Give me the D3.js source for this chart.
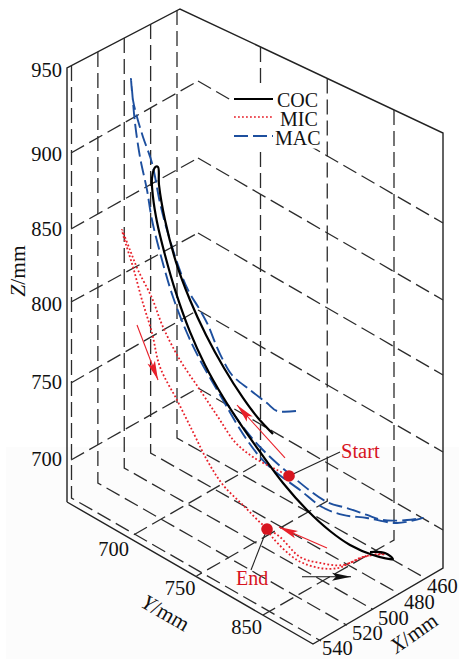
<!DOCTYPE html>
<html><head><meta charset="utf-8">
<style>html,body{margin:0;padding:0;background:#fff}svg{display:block}text{font-family:"Liberation Serif",serif;fill:#111}</style>
<script src="https://cdn.jsdelivr.net/npm/d3@7/dist/d3.min.js"></script>
</head><body><svg id="c" width="459" height="659"></svg>
<script>
// ---- axis ticks
const zTicks=[700,750,800,850,900,950];
const zGrid=[700,750,800,850,900];
const yLabels=["700","750","850"];
const xTicks=[460,480,500,520,540];
// ---- trajectories (Y mm, Z mm), seen in the view plane
const cocY=[807.25,796,784.75,770.5,757,745,734.5,726.25,721.75,721,719.1,716.5,717.25,720.25,726.25,734.5,745,756.25,769.75,783.25,797.5,814.75,832.75,850,865,882.25,897.25,891.25,880];
const cocZ=[801.1,805.7,813.1,825.5,840.3,857.2,876.9,900.5,921.5,933.1,932.1,923.3,911.1,896,877.2,856.3,835.9,819.9,805.7,794.3,783.9,772.4,764,759.2,757.9,760.4,765.7,766.5,761.2];
const macY=[824.5,810.25,802.75,790,776.5,769.75,764.5,758.5,752.5,743.5,736,727.75,722.5,716.5,709.75,705.25,702.25,700.75,701.5,703.75,707.5,712.75,716.5,724,732.25,742.75,752.5,769.75,778.75,787.75,797.5,807.25,827.5,844,859.75,877.75,900.25,919.75,907.75,889.75,877.75,862.75,847.75,822.25,797.5,782.5,773.5];
const macZ=[825.6,818,819.3,821.2,824,830.4,837.6,847.7,854.5,863.1,875.7,894.7,909.9,933.3,947.1,958,967.7,980.9,974,953.2,932.5,913.3,895.3,872.7,852.4,834,821.2,803.7,794.5,786.7,780.5,777.1,774.5,772,775.1,782.7,791.3,805.1,797.3,787.7,784.7,781.3,777.3,780.4,787.2,795.2,802.4];
const micY=[819.25,810.25,792.25,778.75,766,752.5,737.5,724.75,716.5,706,700,694,695.5,702.25,709,716.5,722.5,735.25,747.25,757.75,769.75,784.75,799.75,812.5,827.5,842.5,859.75,874.75,891.25,880,865,856,842.5,825.25,807.25,802.75];
const micZ=[779.5,778.7,777.7,780.5,790.4,801.2,813.2,828.4,843.3,856.4,866.5,876.7,872.1,856.4,838,820,800.5,785.3,770.4,757.3,747.1,741.7,736.4,735.2,729.9,733.9,741.7,755.1,765.9,759.2,745.9,737.7,730.5,726.7,731.7,735.3];
// ---- start / end markers and direction arrows: [Y, Z]
const startPoint=[819.25,779.5], endPoint=[802.75,735.3];
const startLabelAnchor=[857.5,815.9], endLabelAnchor=[790.75,701.6];
const redArrows=[[[705.25,819.3],[721,791.1]],[[816.25,789.9],[780.25,806]],[[847.75,746.7],[811.75,741.5]]];
const blackArrow=[[829,717.5],[865.75,737.1]];
const legendNames=["COC","MIC","MAC"];

const svg=d3.select("#c");
// scales
const zAxis=d3.scaleLinear().domain(zTicks).range([462,385,304,231,155,68]);
const zLabel=d3.scaleLinear().domain(zTicks).range([466,389,311,236,161,77]);
const zPeak=d3.scaleLinear().domain(zGrid).range([388,310,233,158,81]);
const wallX=d3.scaleLinear().domain([540,460]).range([71.5,177]);
const wallFloor=d3.scaleLinear().domain([540,460]).range([498,438]);
const wallTop=d3.scaleLinear().domain([540,460]).range([66,10]);
const xAxisX=d3.scaleLinear().domain([540,460]).range([321,425]);
const xAxisY=d3.scaleLinear().domain([540,460]).range([641,578]);
const yAxisX=d3.scalePoint().domain(yLabels).range([130,263]);
const yAxisY=d3.scalePoint().domain(yLabels).range([537,615]);
const rightWallX=d3.scalePoint().domain(yLabels).range([260.5,394]);
const rightWallFloor=d3.scalePoint().domain(yLabels).range([462,540]);
const rightWallTop=d3.scalePoint().domain(yLabels).range([47,110]);
const viewY=d3.scaleLinear().domain([700,800]).range([130,263.333]);
const viewZ=d3.scaleLinear().domain([700,900]).range([462,162]);
const P=([y,z])=>{const px=viewY(y);return [px,viewZ(z)+0.6*(px-67)];};
const zip=(a,b)=>a.map((v,i)=>[v,b[i]]);
const lineGen=d3.line().curve(d3.curveCatmullRom.alpha(0.5));
const straight=d3.line();

// faint scan tone at the bottom
svg.append("rect").attr("x",6).attr("y",447).attr("width",453).attr("height",212).attr("fill","#fcfcfc");

// box
svg.append("path").attr("fill","none").attr("stroke","#222").attr("stroke-width",1.4)
  .attr("d",straight([[67,502],[67,68],[180,9],[443,133],[443,568],[313,644],[67,502]]));

// dashed grid
const grid=svg.append("g").attr("fill","none").attr("stroke","#2b2b2b").attr("stroke-width",1.3).attr("stroke-dasharray","15 6");
zGrid.forEach(z=>{
  grid.append("path").attr("d",straight([[71,zAxis(z)-2],[198,zPeak(z)]]));
  grid.append("path").attr("d",straight([[198,zPeak(z)],[443,zPeak(z)+142]]));
});
xTicks.forEach(x=>{
  grid.append("path").attr("d",straight([[wallX(x),wallTop(x)],[wallX(x),wallFloor(x)],[xAxisX(x),xAxisY(x)]]));
});
yLabels.forEach(l=>{
  grid.append("path").attr("d",straight([[rightWallX(l),rightWallTop(l)],[rightWallX(l),rightWallFloor(l)],[yAxisX(l),yAxisY(l)]]));
});

// legend backing
svg.append("rect").attr("x",230).attr("y",84).attr("width",92).attr("height",64.5).attr("fill","#fff");

// tick labels
const lab=svg.append("g").attr("font-size",20.5);
zTicks.forEach(z=>lab.append("text").attr("x",62).attr("y",zLabel(z)).attr("text-anchor","end").text(z));
yLabels.forEach(l=>lab.append("text").attr("x",yAxisX(l)-1).attr("y",yAxisY(l)+19).attr("text-anchor","end").text(l));
xTicks.forEach(x=>lab.append("text").attr("x",xAxisX(x)+(x==540?1:x==460?2:5)).attr("y",Math.min(xAxisY(x)+15,654.5)).text(x));

// axis titles
const title=(x,y,r,a)=>{const t=svg.append("text").attr("font-size",21.5).attr("text-anchor","middle").attr("transform",`translate(${x},${y}) rotate(${r})`);
  t.append("tspan").attr("font-style","italic").text(a);t.append("tspan").text("/mm");};
title(25,271,-90,"Z");
title(162,619,30,"Y");
title(418,639,-35,"X");

// trajectories
svg.append("path").attr("d",lineGen(zip(macY,macZ).map(P))).attr("fill","none").attr("stroke","#1d4f9e").attr("stroke-width",1.9).attr("stroke-dasharray","14 5");
svg.append("path").attr("d",lineGen(zip(micY,micZ).map(P))).attr("fill","none").attr("stroke","#e8202a").attr("stroke-width",1.8).attr("stroke-dasharray","1.8 2.2");
svg.append("path").attr("d",lineGen(zip(cocY,cocZ).map(P))).attr("fill","none").attr("stroke","#000").attr("stroke-width",2.2).attr("stroke-linejoin","round");

// arrows
function arrow(seg,col){
  const [a,b]=seg.map(P);
  const ang=Math.atan2(b[1]-a[1],b[0]-a[0]);
  svg.append("path").attr("d",straight([a,b])).attr("stroke",col).attr("stroke-width",1.1).attr("fill","none");
  const L=19,W=4,N=15;
  const pt=(d,o)=>[b[0]-d*Math.cos(ang)-o*Math.sin(ang),b[1]-d*Math.sin(ang)+o*Math.cos(ang)];
  svg.append("path").attr("d",straight([b,pt(L,W),pt(N,0),pt(L,-W)])+"Z").attr("fill",col);
}
redArrows.forEach(s=>arrow(s,"#e8202a"));
arrow(blackArrow,"#111");

// markers
svg.append("path").attr("d",straight([startPoint,startLabelAnchor].map(P))).attr("stroke","#222").attr("stroke-width",1.1).attr("fill","none");
svg.append("path").attr("d",straight([endPoint,endLabelAnchor].map(P))).attr("stroke","#222").attr("stroke-width",1.1).attr("fill","none");
[startPoint,endPoint].forEach(p=>{const q=P(p);svg.append("circle").attr("cx",q[0]).attr("cy",q[1]).attr("r",5.8).attr("fill","#d7141f");});
svg.append("text").attr("x",341).attr("y",458).attr("font-size",20.5).style("fill","#d7141f").text("Start");
svg.append("text").attr("x",236).attr("y",585).attr("font-size",20).style("fill","#d7141f").text("End");

// legend
const legStyles=[{s:"#000",w:2.2,d:null,y:99,tx:277,ty:106.5},{s:"#e8202a",w:1.5,d:"1.8 2.2",y:117,tx:280,ty:126},{s:"#1d4f9e",w:1.9,d:"14 5",y:136,tx:275,ty:144.5}];
legendNames.forEach((n,i)=>{const k=legStyles[i];
  svg.append("line").attr("x1",234).attr("x2",273).attr("y1",k.y).attr("y2",k.y).attr("stroke",k.s).attr("stroke-width",k.w).attr("stroke-dasharray",k.d);
  svg.append("text").attr("x",k.tx).attr("y",k.ty).attr("font-size",20).text(n);
});
</script></body></html>
